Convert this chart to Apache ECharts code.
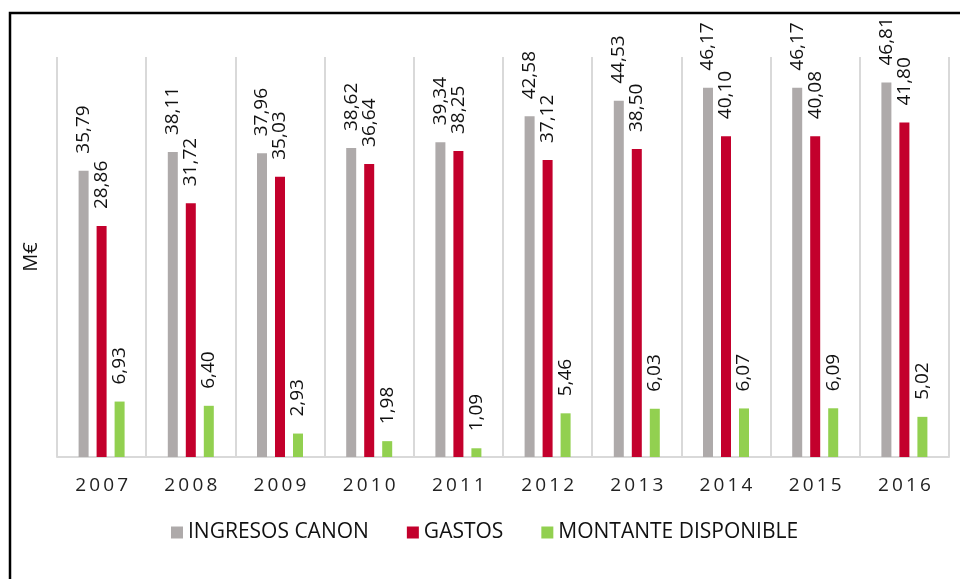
<!DOCTYPE html>
<html>
<head>
<meta charset="utf-8">
<script src="https://cdn.jsdelivr.net/npm/echarts@6/dist/echarts.min.js"></script>
<style>
	html, body { margin: 0; padding: 0; background: #fff; }
	#chart { width: 960px; height: 579px; }
</style>
</head>
<body>
<div id="chart"></div>
<script>
var years = ["2007", "2008", "2009", "2010", "2011", "2012", "2013", "2014", "2015", "2016"];
var ingresos = [35.79, 38.11, 37.96, 38.62, 39.34, 42.58, 44.53, 46.17, 46.17, 46.81];
var gastos = [28.86, 31.72, 35.03, 36.64, 38.25, 37.12, 38.50, 40.10, 40.08, 41.80];
var montante = [6.93, 6.40, 2.93, 1.98, 1.09, 5.46, 6.03, 6.07, 6.09, 5.02];

var font = "'Open Sans', 'DejaVu Sans', sans-serif";

// etiqueta vertical encima de cada barra, con coma decimal
function barLabel() {
	return {
		show: true,
		position: "top",
		rotate: 90,
		align: "left",
		verticalAlign: "middle",
		distance: 17,
		color: "#111",
		fontFamily: font,
		fontSize: 19,
		formatter: function(p) {
			return p.value.toFixed(2).replace(".", ",");
		}
	};
}

function makeSeries(name, data, color) {
	return {
		name: name,
		type: "bar",
		data: data,
		barWidth: 10,
		barGap: "80%",
		itemStyle: { color: color },
		label: barLabel()
	};
}

var myChart = echarts.init(document.getElementById("chart"));

var option = {
	animation: false,
	backgroundColor: "#fff",
	grid: { left: 57, right: 11, top: 57, bottom: 122 },
	legend: {
		top: 517,
		left: 166,
		itemWidth: 12,
		itemHeight: 12,
		itemGap: 38,
		icon: "rect",
		textStyle: { fontFamily: font, fontSize: 21, color: "#111" },
		data: ["INGRESOS CANON", "GASTOS", "MONTANTE DISPONIBLE"]
	},
	xAxis: {
		type: "category",
		data: years,
		axisLine: { lineStyle: { color: "#d9d9d9", width: 2 } },
		axisTick: { show: false },
		splitLine: { show: true, interval: 0, lineStyle: { color: "#d9d9d9", width: 2 } },
		axisLabel: {
			margin: 19,
			fontFamily: font,
			fontSize: 19,
			color: "#222",
			formatter: function(v) {
				return v.split("").join("\u2009");
			}
		}
	},
	yAxis: {
		type: "value",
		min: 0,
		max: 50,
		name: "M€",
		nameLocation: "middle",
		nameGap: 16,
		nameTextStyle: { fontFamily: font, fontSize: 20, color: "#111" },
		axisLine: { show: false },
		axisTick: { show: false },
		axisLabel: { show: false },
		splitLine: { show: false }
	},
	graphic: [{
		type: "rect",
		shape: { x: 10, y: 13, width: 1000, height: 1000 },
		style: { fill: "none", stroke: "#000", lineWidth: 2.5 },
		silent: true
	}],
	series: [
		makeSeries("INGRESOS CANON", ingresos, "#aeaaaa"),
		makeSeries("GASTOS", gastos, "#c3002c"),
		makeSeries("MONTANTE DISPONIBLE", montante, "#92d050")
	]
};

myChart.setOption(option);
</script>
</body>
</html>
